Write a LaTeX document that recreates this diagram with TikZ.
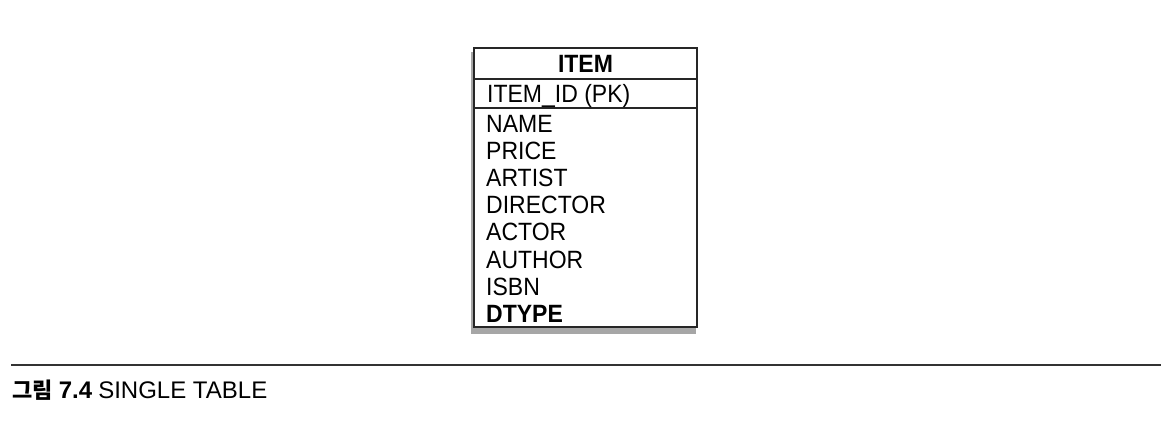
\documentclass[tikz,border=0pt]{standalone}
\usepackage{fontspec}
\setmainfont{Liberation Sans}[FakeStretch=0.92]
\newfontfamily\capfont{Liberation Sans}
\newfontfamily\krfont{Noto Sans CJK KR}
\tikzset{
  cell/.style={anchor=base west, inner sep=0pt, font=\fontsize{25}{27}\selectfont},
  frame/.style={draw=black!85, line width=1.6pt},
  shade/.style={fill=black!35, draw=none},
  rule/.style={draw=black!80, line width=1.8pt},
}
\begin{document}
\begin{tikzpicture}[x=1pt, y=-1pt]
\useasboundingbox (0,0) rectangle (1174,426);
% shadow and table frame
\fill[shade] (471,52) rectangle (696,334);
\filldraw[frame, fill=white] (474,48) rectangle (697,327);
\draw[frame] (474,79) -- (697,79);
\draw[frame] (474,108) -- (697,108);
% header
\node[cell, anchor=base, font=\fontsize{25}{27}\selectfont\bfseries] (title) at (585.5,72) {ITEM};
\node[cell] (pk) at (487,102) {ITEM\_ID (PK)};
% columns
\node[cell] (c1) at (486,132) {NAME};
\node[cell] (c2) at (486,159) {PRICE};
\node[cell] (c3) at (486,186) {ARTIST};
\node[cell] (c4) at (486,213) {DIRECTOR};
\node[cell] (c5) at (486,240) {ACTOR};
\node[cell] (c6) at (486,268) {AUTHOR};
\node[cell] (c7) at (486,295) {ISBN};
\node[cell, font=\fontsize{25}{27}\selectfont\bfseries] (c8) at (486,322) {DTYPE};
% rule and caption
\coordinate (rl) at (11,365);
\coordinate (rr) at (1161,365);
\draw[rule] (rl) -- (rr);
\node[anchor=base west, inner sep=0pt, font=\fontsize{24}{26}\selectfont] (cap) at (12,398)
  {{\krfont\bfseries\fontsize{22}{26}\selectfont 그림} {\capfont\bfseries 7.4} {\capfont SINGLE TABLE}};
\end{tikzpicture}
\end{document}
